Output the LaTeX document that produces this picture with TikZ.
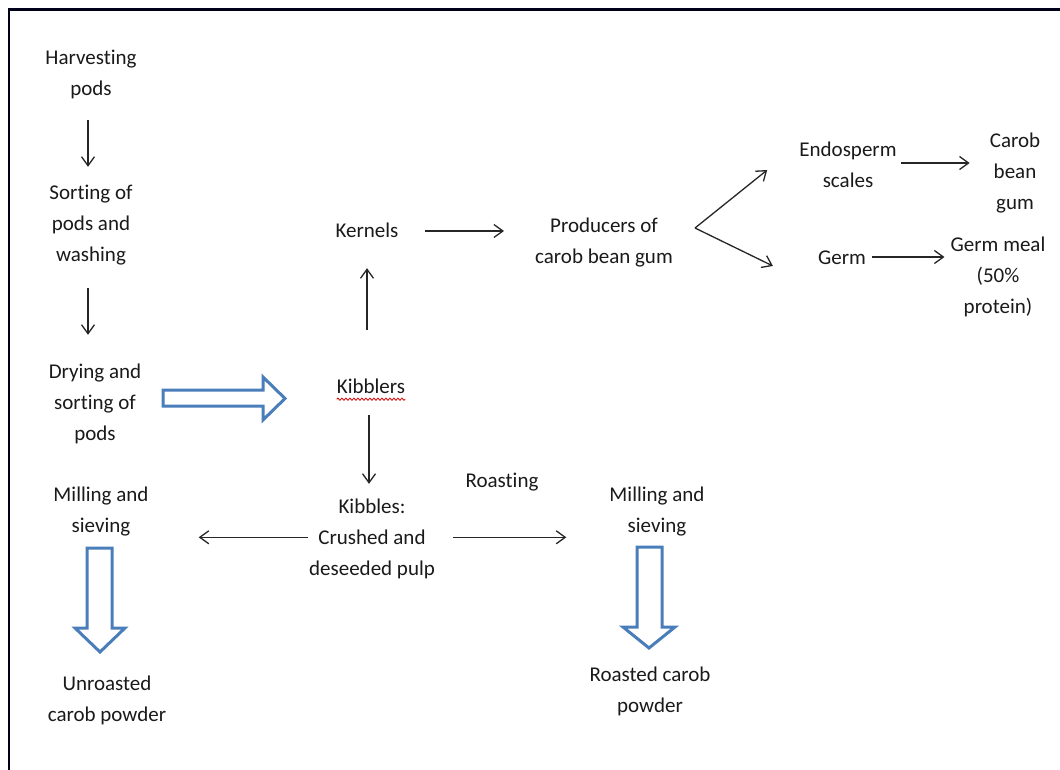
\documentclass[tikz,border=0pt]{standalone}
\usepackage{fontspec}
\setmainfont{Carlito}[Ligatures=NoCommon]
\usetikzlibrary{arrows.meta,calc,decorations.pathmorphing}

\definecolor{txt}{HTML}{1A1A1A}
\definecolor{blockblue}{HTML}{4A7EBB}

\tikzset{
  lbl/.style={align=center, inner sep=0pt, text=txt,
    font=\fontsize{21}{31}\selectfont},
  arr/.style={draw=black!85, line width=1.3pt,
    -{Straight Barb[length=9pt,width=13pt,line width=1.3pt]}},
  blockarrow/.style={draw=blockblue, line width=3pt, fill=white, line join=miter},
  frameline/.style={draw=black!90!blue, line width=2.6pt}
}

\begin{document}
\begin{tikzpicture}[x=1pt,y=-1pt]
\useasboundingbox (0,0) rectangle (1060,770);
\fill[white] (0,0) rectangle (1060,770);

% open frame: left and top edges
\draw[frameline] (9,770) -- (9,9.5) -- (1060,9.5);

% process steps
\node[lbl] (harv)  at (91,73.5)   {\strut Harvesting\\pods\strut};
\node[lbl] (sort)  at (91,224.3)  {\strut Sorting of\\pods and\\washing\strut};
\node[lbl] (dry)   at (95,403)    {\strut Drying and\\sorting of\\pods\strut};
\node[lbl] (kib)   at (371,387)   {\strut Kibblers\strut};
\node[lbl] (kern)  at (367,231)   {\strut Kernels\strut};
\node[lbl] (prod)  at (604,241.5) {\strut Producers of\\carob bean gum\strut};
\node[lbl] (endo)  at (848,166)   {\strut Endosperm\\scales\strut};
\node[lbl] (carob) at (1015,172)  {\strut Carob\\bean\\gum\strut};
\node[lbl] (germ)  at (842,258)   {\strut Germ\strut};
\node[lbl] (gmeal) at (998,276)   {\strut Germ meal\\(50\%\\protein)\strut};
\node[lbl] (kbs)   at (372,538.3) {\strut Kibbles:\\Crushed and\\deseeded pulp\strut};
\node[lbl] (roast) at (502,481)   {\strut Roasting\strut};
\node[lbl] (millL) at (101,510.5) {\strut Milling and\\sieving\strut};
\node[lbl] (millR) at (657,511)   {\strut Milling and\\sieving\strut};
\node[lbl] (unr)   at (107,700)   {\strut Unroasted\\carob powder\strut};
\node[lbl] (rst)   at (650,690.5) {\strut Roasted carob\\powder\strut};

% spell-check squiggle under "Kibblers"
\draw[red!85!black, line width=0.8pt, decorate,
      decoration={snake, amplitude=1.1pt, segment length=4pt}]
  ($(kib.base west)+(0,6)$) -- ($(kib.base east)+(0,6)$);

% thin arrows
\draw[arr, shorten <=15.5pt, shorten >=10.8pt]
  ($(harv.south)+(-3,0)$) -- ($(sort.north)+(-3,0)$);
\draw[arr, shorten <=17pt, shorten >=21.5pt]
  ($(sort.south)+(-3,0)$) -- ($(dry.north)+(-7,0)$);
\draw[arr, shorten <=41.5pt, shorten >=21.5pt]
  ($(kib.north)+(-4,0)$) -- (kern.south);
\draw[arr, shorten <=12.5pt, shorten >=7.8pt]
  ($(kib.south)+(-2,0)$) -- ($(kbs.south |- kbs.north)+(-3,0)$);
\draw[arr, shorten <=26pt, shorten >=31pt]
  (kern.east) -- (kern.east -| prod.west);

\coordinate (fork) at ($(prod.east)+(22,-13.5)$);
\draw[arr] (fork) -- ($(endo.west)+(-32,4)$);
\draw[arr] (fork) -- ($(germ.west)+(-45,8)$);
\draw[arr, shorten <=4pt, shorten >=20pt]
  ($(endo.east)+(0,-3)$) -- ($(endo.east -| carob.west)+(0,-3)$);
\draw[arr, shorten <=6pt, shorten >=6pt]
  ($(germ.east)+(0,-1)$) -- ($(germ.east -| gmeal.west)+(0,-1)$);

\draw[arr, shorten <=1pt, shorten >=50pt]
  ($(kbs.west)+(0,-1)$) -- ($(kbs.west -| millL.east)+(0,-1)$);
\draw[arr, shorten <=18pt, shorten >=43pt]
  ($(kbs.east)+(0,-1)$) -- ($(kbs.east -| millR.west)+(0,-1)$);

% block arrows
\draw[blockarrow] (163,390) -- (263,390) -- (263,377) -- (285,398.5)
  -- (263,420) -- (263,406) -- (163,406) -- cycle;
\draw[blockarrow] (87,548) -- (112,548) -- (112,628) -- (125,628) -- (100,652)
  -- (75,628) -- (87,628) -- cycle;
\draw[blockarrow] (637,547) -- (662,547) -- (662,627) -- (675,627) -- (649,648)
  -- (623,627) -- (637,627) -- cycle;
\end{tikzpicture}
\end{document}
